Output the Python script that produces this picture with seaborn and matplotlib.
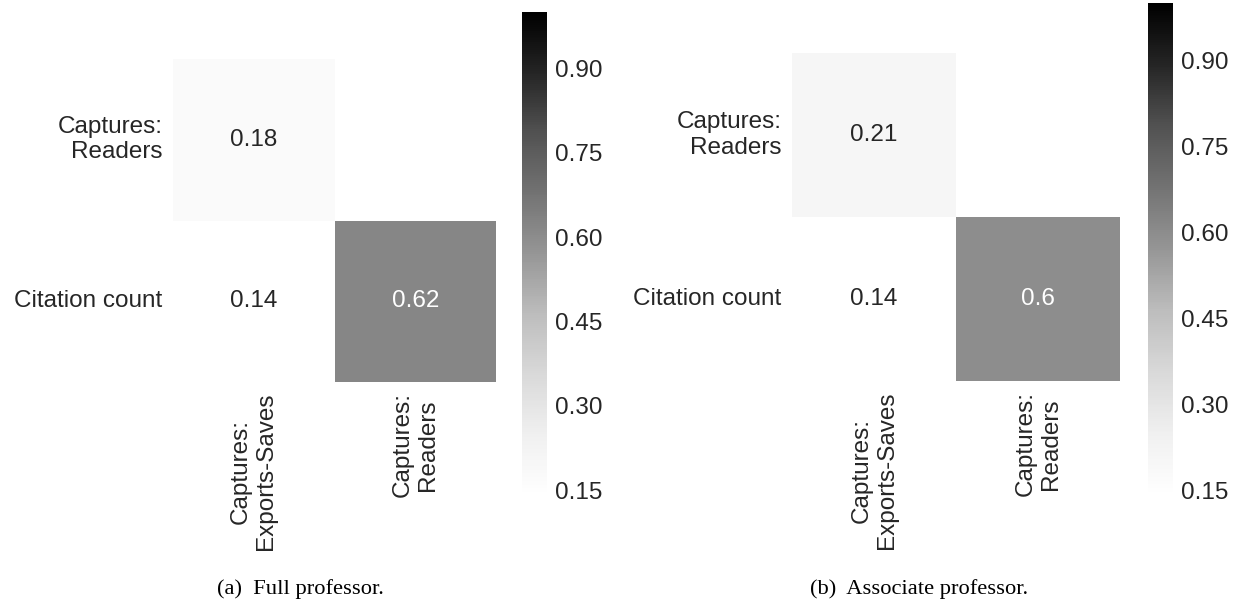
import numpy as np
import pandas as pd
import matplotlib
matplotlib.use("Agg")
import matplotlib.pyplot as plt
import seaborn as sns

row_labels = ["Captures:\nReaders", "Citation count"]
col_labels = ["Captures:\nExports-Saves", "Captures:\nReaders"]

# lower triangle of the correlation matrix, upper right cell is masked
full_prof = [[0.18, np.nan], [0.14, 0.62]]
assoc_prof = [[0.21, np.nan], [0.14, 0.60]]
cbar_ticks = [0.15, 0.30, 0.45, 0.60, 0.75, 0.90]
captions = ["(a)  Full professor.", "(b)  Associate professor."]

sns.set_theme(style="white")
plt.rcParams["font.family"] = ["Liberation Sans", "DejaVu Sans"]

fig = plt.figure(figsize=(12.41, 6.01), dpi=100)

# boxes in figure fractions: heatmap axes, colorbar axes
layouts = [
    ([0.1394, 0.3644, 0.2603, 0.5374], [0.4206, 0.1747, 0.0201, 0.8053]),
    ([0.6382, 0.3661, 0.2643, 0.5458], [0.9251, 0.1747, 0.0201, 0.8203]),
]
cap_x = [0.2417, 0.7405]

for vals, (hm_box, cb_box), cap, cx in zip([full_prof, assoc_prof], layouts, captions, cap_x):
    df = pd.DataFrame(vals, index=row_labels, columns=col_labels)
    ax = fig.add_axes(hm_box)
    cax = fig.add_axes(cb_box)
    sns.heatmap(df, mask=df.isna(), cmap="Greys", vmax=1.0, annot=True,
                annot_kws={"size": 17.5}, ax=ax, cbar_ax=cax,
                cbar_kws={"ticks": cbar_ticks, "format": "%.2f"})
    ax.set_xticklabels(col_labels, rotation=90)
    ax.set_yticklabels(row_labels, rotation=0)
    ax.tick_params(labelsize=17.5, length=0, pad=7.5)
    cax.tick_params(labelsize=17.5, length=0, pad=6)
    fig.text(cx, 0.02, cap, ha="center", va="center", fontsize=16.2,
             family=["Liberation Serif", "DejaVu Serif"], color="black")

fig.savefig("out.png", dpi=100)
